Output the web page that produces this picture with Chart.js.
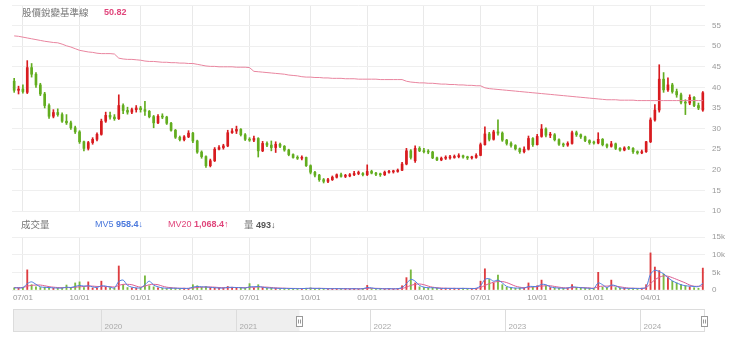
<!DOCTYPE html>
<html>
<head>
<meta charset="utf-8">
<script src="https://cdn.jsdelivr.net/npm/chart.js@4.4.1/dist/chart.umd.min.js"></script>
<style>
  html, body { margin: 0; padding: 0; background: #fff; }
  body { width: 740px; height: 342px; position: relative; overflow: hidden;
         font-family: "Liberation Sans", "Noto Sans CJK TC", sans-serif; }
  canvas { position: absolute; left: 0; }
  #priceCanvas { top: 0; }
  #volCanvas { top: 230px; }
  #navCanvas { top: 300px; }
  .lg { position: absolute; font-size: 9px; line-height: 12px; white-space: nowrap; }
  .cn { font-family: "Noto Sans CJK TC", sans-serif; color: #777; font-size: 9.5px; }
  .pink { color: #e0457b; }
  .blue { color: #4a78dc; }
  .dark { color: #555; }
  b { font-weight: bold; }
</style>
</head>
<body>
<canvas id="priceCanvas" width="740" height="216"></canvas>
<canvas id="volCanvas" width="740" height="80"></canvas>
<canvas id="navCanvas" width="740" height="42"></canvas>

<div class="lg cn" style="top:6px;left:22px;">股價銳變基準線</div>
<div class="lg pink" style="top:6px;left:104px;"><b>50.82</b></div>

<div class="lg cn" style="top:218px;left:21px;">成交量</div>
<div class="lg blue" style="top:218px;left:95px;">MV5 <b>958.4</b>↓</div>
<div class="lg pink" style="top:218px;left:168px;">MV20 <b>1,068.4</b>↑</div>
<div class="lg dark" style="top:218px;left:244px;"><span class="cn" style="color:#777">量</span> <b>493</b>↓</div>

<script>
// Weekly candles, first week starting Monday 2021-06-14
const firstWeek = [2021, 5, 14];
const weekCount = 159;

const opens = [
  41.5, 39.3, 39.6, 38.8, 44.8, 43.2, 40.6, 38.4, 35.6, 33.0,
  33.9, 33.4, 31.8, 31.4, 30.2, 29.2, 26.8, 25.2, 26.6, 27.4,
  28.6, 31.8, 33.2, 32.8, 32.4, 35.6, 34.4, 34.0, 34.6, 35.0,
  34.6, 34.2, 32.9, 31.4, 33.0, 32.8, 31.3, 29.6, 27.9, 27.3,
  28.0, 28.9, 27.0, 24.3, 23.2, 21.0, 22.2, 25.0, 25.4, 25.8,
  29.0, 29.4, 29.8, 28.5, 27.4, 27.2, 27.6, 24.6, 26.4, 26.0,
  25.4, 26.2, 25.7, 24.8, 23.7, 23.0, 22.8, 23.0, 21.0, 19.4,
  18.7, 17.6, 17.2, 17.6, 18.2, 18.8, 18.4, 18.5, 18.8, 19.1,
  19.1, 18.8, 19.6, 19.2, 18.9, 18.8, 19.4, 19.5, 19.6, 19.9,
  21.4, 24.6, 22.2, 25.2, 24.6, 24.4, 24.3, 22.9, 22.4, 22.8,
  22.9, 23.0, 23.2, 23.4, 23.1, 22.9, 23.0, 23.5, 26.1, 28.7,
  27.4, 29.2, 28.9, 27.2, 26.4, 25.9, 25.1, 24.4, 25.0, 27.6,
  26.1, 28.1, 29.9, 28.4, 28.5, 27.3, 26.2, 26.0, 26.4, 29.0,
  28.5, 28.0, 27.1, 26.6, 26.5, 27.4, 26.1, 25.7, 26.3, 25.2,
  24.8, 25.3, 25.2, 24.4, 24.1, 24.4, 26.8, 32.1, 34.5, 42.0,
  39.4, 40.6, 39.0, 38.2, 36.4, 36.2, 37.6, 35.6, 34.5
];
const highs = [
  42.2, 40.3, 40.6, 46.5, 45.8, 43.6, 41.0, 38.8, 36.0, 34.6,
  34.8, 33.8, 33.4, 31.8, 30.6, 29.5, 27.0, 26.9, 27.8, 29.0,
  32.3, 34.0, 34.0, 33.4, 38.2, 36.0, 35.2, 35.0, 35.6, 35.4,
  36.6, 34.4, 33.2, 33.4, 33.6, 33.0, 31.5, 29.8, 28.2, 28.3,
  29.5, 29.1, 27.2, 24.6, 23.4, 22.6, 25.4, 25.9, 26.2, 29.6,
  30.0, 30.6, 30.0, 28.8, 27.8, 28.2, 27.8, 26.9, 26.8, 27.0,
  26.8, 26.5, 25.9, 25.0, 23.9, 23.4, 23.4, 23.1, 21.2, 19.6,
  18.9, 17.9, 17.9, 18.5, 19.0, 19.2, 18.9, 19.1, 19.6, 19.7,
  19.3, 21.2, 19.9, 19.4, 19.2, 19.7, 19.9, 19.9, 20.2, 21.8,
  25.2, 24.9, 25.8, 25.6, 25.2, 24.9, 24.5, 23.1, 23.1, 23.4,
  23.5, 23.6, 23.9, 23.6, 23.3, 23.3, 23.9, 26.5, 30.4, 29.1,
  29.6, 32.1, 29.2, 27.4, 26.8, 26.1, 25.3, 25.6, 28.2, 27.8,
  28.6, 31.0, 30.2, 29.1, 28.8, 27.5, 26.5, 26.8, 29.4, 29.4,
  28.7, 28.2, 27.3, 27.0, 29.0, 27.6, 26.3, 26.9, 26.5, 25.4,
  25.6, 25.7, 25.4, 24.6, 24.8, 26.9, 32.6, 35.8, 45.5, 43.6,
  42.3, 41.0, 39.6, 38.6, 37.0, 38.2, 37.8, 36.2, 39.0
];
const lows = [
  38.8, 38.4, 38.6, 38.5, 42.5, 40.0, 38.0, 35.0, 32.5, 32.6,
  33.0, 31.5, 31.0, 29.8, 28.8, 26.4, 24.6, 24.8, 26.2, 27.0,
  28.4, 31.5, 32.3, 32.0, 32.2, 33.6, 33.5, 33.6, 34.0, 34.0,
  33.2, 32.6, 30.2, 31.2, 32.4, 31.0, 29.4, 27.6, 27.0, 27.0,
  27.8, 26.6, 24.0, 22.8, 20.6, 20.7, 22.0, 24.8, 25.0, 25.6,
  28.8, 28.8, 28.2, 27.1, 26.9, 26.8, 23.1, 24.4, 25.6, 24.6,
  24.2, 25.4, 24.5, 23.4, 22.8, 22.5, 22.4, 20.8, 19.0, 18.3,
  17.2, 16.8, 16.9, 17.4, 18.0, 18.2, 18.1, 18.3, 18.6, 18.8,
  18.5, 18.6, 19.0, 18.6, 18.4, 18.6, 19.2, 19.2, 19.4, 19.8,
  21.2, 22.6, 21.8, 24.4, 24.1, 23.9, 22.7, 22.2, 22.2, 22.5,
  22.6, 22.8, 22.9, 22.8, 22.5, 22.6, 22.8, 23.4, 26.0, 27.0,
  27.2, 28.4, 26.9, 26.0, 25.5, 24.8, 24.0, 24.1, 24.8, 25.7,
  26.0, 27.9, 28.0, 27.8, 27.0, 25.9, 25.6, 25.7, 26.2, 28.1,
  27.6, 26.8, 26.2, 26.2, 26.3, 25.8, 25.3, 25.5, 24.9, 24.5,
  24.6, 24.9, 24.0, 23.8, 23.9, 24.2, 26.6, 31.8, 34.0, 38.8,
  39.0, 38.6, 37.6, 36.0, 33.4, 35.8, 35.3, 34.6, 34.2
];
const closes = [
  39.3, 39.6, 39.0, 44.8, 43.2, 40.6, 38.4, 35.6, 33.0, 33.9,
  33.4, 31.8, 31.4, 30.2, 29.2, 26.8, 25.2, 26.6, 27.4, 28.6,
  31.8, 33.2, 32.8, 32.4, 35.6, 34.4, 34.0, 34.6, 35.0, 34.6,
  34.2, 32.9, 31.4, 33.0, 32.8, 31.3, 29.6, 27.9, 27.3, 28.0,
  28.9, 27.0, 24.3, 23.2, 21.0, 22.2, 25.0, 25.4, 25.8, 29.0,
  29.4, 29.8, 28.5, 27.4, 27.2, 27.6, 24.6, 26.4, 26.0, 25.4,
  26.2, 25.7, 24.8, 23.7, 23.0, 22.8, 23.0, 21.0, 19.4, 18.7,
  17.6, 17.2, 17.6, 18.2, 18.8, 18.4, 18.5, 18.8, 19.1, 19.1,
  18.8, 19.6, 19.2, 18.9, 18.8, 19.4, 19.5, 19.6, 19.9, 21.4,
  24.6, 23.0, 25.2, 24.6, 24.4, 24.3, 22.9, 22.4, 22.8, 22.9,
  23.0, 23.2, 23.4, 23.1, 22.9, 23.0, 23.5, 26.1, 28.7, 27.4,
  29.2, 28.9, 27.2, 26.4, 25.9, 25.1, 24.4, 25.0, 27.6, 26.1,
  28.1, 29.9, 28.4, 28.5, 27.3, 26.2, 26.0, 26.4, 29.0, 28.5,
  28.0, 27.1, 26.6, 26.5, 27.4, 26.1, 25.7, 26.3, 25.2, 24.8,
  25.3, 25.2, 24.4, 24.1, 24.4, 26.8, 32.1, 34.5, 42.0, 39.4,
  40.6, 39.0, 38.2, 36.4, 36.2, 37.6, 35.6, 35.0, 38.7
];
// 股價銳變基準線
const baseline = [
  52.5, 52.4, 52.2, 52.0, 51.8, 51.6, 51.4, 51.2, 51.05, 50.9,
  50.82, 50.5, 50.1, 49.8, 49.4, 49.0, 48.8, 48.6, 48.5, 48.3,
  48.2, 48.2, 48.2, 48.1, 47.1, 46.9, 46.8, 46.8, 46.7, 46.6,
  46.4, 46.3, 46.3, 46.2, 46.1, 46.1, 46.0, 46.0, 45.9, 45.9,
  45.8, 45.8, 45.6, 45.4, 45.2, 45.1, 45.1, 45.0, 45.0, 45.0,
  45.0, 44.9, 44.9, 44.9, 44.8, 43.9, 43.8, 43.7, 43.6, 43.5,
  43.4, 43.3, 43.2, 43.0, 42.9, 42.8, 42.6, 42.5, 42.5, 42.4,
  42.4, 42.3, 42.3, 42.2, 42.2, 42.2, 42.1, 42.1, 42.1, 42.0,
  42.0, 42.0, 42.0, 42.0, 41.9, 41.9, 41.9, 41.9, 41.9, 41.9,
  41.5, 41.3, 41.2, 41.1, 41.1, 41.0, 41.0, 40.9, 40.8, 40.8,
  40.7, 40.7, 40.6, 40.6, 40.5, 40.5, 40.4, 40.4, 39.9, 39.7,
  39.6, 39.5, 39.4, 39.3, 39.2, 39.1, 39.0, 38.9, 38.8, 38.7,
  38.6, 38.5, 38.4, 38.3, 38.2, 38.1, 38.0, 37.9, 37.8, 37.7,
  37.6, 37.5, 37.4, 37.3, 37.2, 37.1, 37.0, 37.0, 37.0, 36.9,
  36.9, 36.9, 36.9, 36.8, 36.8, 36.8, 36.8, 36.8, 36.8, 36.8,
  36.8, 36.8, 36.8, 36.8, 36.8, 36.8, 36.8, 36.8, 36.8
];
// 成交量 and its moving averages
const volumes = [
  600, 500, 700, 5700, 1500, 900, 700, 800, 600, 500,
  500, 600, 1400, 500, 2000, 2300, 700, 2300, 600, 500,
  2500, 800, 600, 500, 6800, 1500, 700, 600, 500, 600,
  4000, 1200, 900, 600, 500, 400, 600, 500, 400, 500,
  400, 1500, 1200, 800, 1000, 700, 600, 500, 600, 1000,
  800, 700, 600, 500, 1800, 600, 1500, 700, 500, 600,
  500, 400, 500, 400, 400, 400, 400, 500, 600, 400,
  500, 400, 300, 400, 400, 300, 400, 300, 400, 300,
  400, 1300, 400, 300, 400, 300, 400, 300, 400, 1200,
  3500, 5700, 2000, 900, 700, 600, 700, 500, 400, 500,
  400, 500, 400, 500, 400, 400, 500, 2500, 6000, 3000,
  2000, 4200, 1500, 800, 600, 500, 600, 500, 2000, 800,
  1200, 2800, 1200, 700, 600, 500, 500, 600, 1500, 700,
  600, 500, 500, 400, 5000, 800, 600, 2800, 700, 500,
  500, 400, 500, 400, 500, 1500, 10500, 6500, 5500, 4500,
  3500, 2500, 2000, 1500, 1200, 900, 650, 493, 6200
];
const mv5 = [
  600, 600, 650, 1800, 2300, 1600, 900, 750, 700, 600,
  550, 550, 800, 700, 1000, 1300, 1100, 1200, 900, 700,
  1200, 1100, 800, 600, 2400, 2800, 1300, 800, 600, 600,
  1500, 2500, 1400, 900, 600, 500, 500, 500, 450, 450,
  450, 800, 1000, 900, 850, 750, 650, 550, 550, 750,
  750, 700, 650, 550, 900, 900, 1000, 800, 600, 550,
  500, 450, 450, 430, 400, 400, 400, 450, 500, 450,
  450, 420, 350, 370, 400, 350, 370, 330, 370, 330,
  370, 700, 600, 380, 370, 330, 370, 330, 380, 700,
  1800, 3000, 2500, 1300, 800, 650, 650, 550, 450, 450,
  450, 450, 450, 450, 430, 400, 450, 1200, 3000, 3200,
  2500, 2800, 2000, 1000, 700, 550, 550, 550, 1000, 1000,
  1000, 1600, 1500, 900, 650, 550, 500, 550, 900, 800,
  650, 550, 500, 450, 2000, 1500, 700, 1400, 1200, 600,
  500, 450, 450, 430, 450, 800, 4500, 5600, 5200, 4600,
  3500, 2600, 2000, 1500, 1200, 1100, 1000, 958.4, 1900
];
const mv20 = [
  700, 700, 700, 1100, 1300, 1400, 1400, 1200, 950, 800,
  700, 650, 700, 700, 800, 900, 1000, 1100, 1100, 1000,
  1000, 1000, 950, 850, 1300, 1600, 1600, 1500, 1100, 800,
  1100, 1500, 1600, 1500, 1100, 800, 650, 550, 500, 480,
  470, 600, 700, 800, 850, 850, 800, 700, 650, 650,
  700, 700, 700, 650, 750, 800, 850, 850, 800, 700,
  600, 550, 500, 470, 450, 430, 420, 430, 450, 460,
  460, 450, 420, 400, 390, 380, 380, 370, 360, 360,
  360, 450, 480, 470, 440, 380, 360, 350, 360, 450,
  800, 1300, 1600, 1700, 1500, 1100, 800, 650, 550, 500,
  480, 460, 450, 450, 450, 440, 440, 700, 1300, 1800,
  2200, 2400, 2400, 2100, 1600, 1100, 800, 650, 750, 850,
  950, 1100, 1200, 1200, 1000, 800, 650, 580, 650, 700,
  700, 650, 580, 520, 900, 1100, 1100, 1200, 1100, 900,
  700, 550, 500, 470, 470, 600, 1800, 2900, 3600, 4000,
  3900, 3500, 3000, 2500, 2000, 1400, 1050, 1068.4, 1120
];
const priceRange = [10, 60];
const volumeRange = [0, 15000];
const quarterMonths = [0, 3, 6, 9];
const navYears = [2020, 2021, 2022, 2023, 2024];
const navRange = [2019.345, 2024.485];
const navSelectionStart = 2021.47;

// ---- categories: one Monday per week ----
const weeks = [];
for (let i = 0; i < weekCount; i++) {
  weeks.push(new Date(Date.UTC(firstWeek[0], firstWeek[1], firstWeek[2] + 7 * i)));
}
// a week gets a tick when it holds the first trading day of a quarter month
function quarterLabel(monday) {
  for (let k = 0; k < 5; k++) {
    const d = new Date(monday.getTime() + k * 86400000);
    const dd = d.getUTCDate(), m = d.getUTCMonth();
    const first = dd === 1 || ((dd === 2 || dd === 3) && d.getUTCDay() === 1);
    if (first && quarterMonths.includes(m)) {
      return String(m + 1).padStart(2, '0') + '/01';
    }
  }
  return '';
}
const labels = weeks.map(w => w.toISOString().slice(0, 10));
const tickText = weeks.map(quarterLabel);

const UP = '#d81b1f', DOWN = '#62ad1f';
const candleColors = closes.map((c, i) => c >= opens[i] ? UP : DOWN);
const volColors = closes.map((c, i) => c >= opens[i] ? 'rgba(216,27,31,0.85)' : 'rgba(98,173,31,0.85)');

Chart.defaults.font.family = '"Liberation Sans", Arial, sans-serif';
Chart.defaults.animation = false;

const GRID = '#efefef';
const quarterGrid = ctx => (tickText[ctx.index] ? '#e9e9e9' : 'rgba(0,0,0,0)');

// right-hand value axis with a fixed width and no extra label padding
function rightAxis(extra) {
  return Object.assign({
    position: 'right',
    grid: { color: GRID, drawTicks: false },
    border: { display: false },
    afterFit(scale) {
      scale.width = 35;
      scale.paddingTop = 0;
      scale.paddingBottom = 0;
    }
  }, extra);
}
function flatX(extra, h) {
  return Object.assign({
    grid: { color: quarterGrid, offset: false, drawTicks: false },
    border: { display: false },
    afterFit(scale) {
      scale.height = h;
      scale.paddingLeft = 0;
      scale.paddingRight = 0;
    }
  }, extra);
}

// ---- price panel ----
new Chart(document.getElementById('priceCanvas'), {
  type: 'bar',
  data: {
    labels,
    datasets: [
      { type: 'line', data: baseline, borderColor: '#e9859f', borderWidth: 1,
        pointRadius: 0, tension: 0, order: 0 },
      { data: lows.map((l, i) => [l, highs[i]]), backgroundColor: candleColors,
        barThickness: 1, grouped: false, order: 2 },
      { data: opens.map((o, i) => [o, closes[i]]), backgroundColor: candleColors,
        barThickness: 2, minBarLength: 1, grouped: false, order: 1 }
    ]
  },
  options: {
    responsive: false,
    events: [],
    layout: { padding: { left: 12, right: 0, top: 5, bottom: 5 } },
    plugins: { legend: { display: false }, tooltip: { enabled: false } },
    scales: {
      x: flatX({ ticks: { display: false, autoSkip: false } }, 0),
      y: rightAxis({
        min: priceRange[0], max: priceRange[1],
        ticks: { stepSize: 5, color: '#999', font: { size: 8 }, padding: 7,
                 callback: v => (v === priceRange[1] ? '' : v) }
      })
    }
  }
});

// ---- volume panel ----
new Chart(document.getElementById('volCanvas'), {
  type: 'bar',
  data: {
    labels,
    datasets: [
      { type: 'line', data: mv5, borderColor: '#4f7fe0', borderWidth: 1,
        pointRadius: 0, tension: 0.3, order: 0 },
      { type: 'line', data: mv20, borderColor: '#dd5f92', borderWidth: 1,
        pointRadius: 0, tension: 0.3, order: 1 },
      { data: volumes, backgroundColor: volColors, barThickness: 1.2, order: 2 }
    ]
  },
  options: {
    responsive: false,
    events: [],
    layout: { padding: { left: 12, right: 0, top: 7, bottom: 6 } },
    plugins: { legend: { display: false }, tooltip: { enabled: false } },
    scales: {
      x: flatX({
        ticks: { autoSkip: false, maxRotation: 0, minRotation: 0, padding: 3,
                 color: '#999', font: { size: 8 },
                 callback: (v, i) => tickText[i] }
      }, 14),
      y: rightAxis({
        min: volumeRange[0], max: volumeRange[1],
        ticks: { stepSize: 5000, color: '#999', font: { size: 8 }, padding: 7,
                 callback: v => (v === 0 ? '0' : v / 1000 + 'k') }
      })
    }
  }
});

// ---- range navigator ----
const navigatorFrame = {
  id: 'navigatorFrame',
  beforeDraw(chart) {
    const { ctx, chartArea: a } = chart;
    const xs = chart.scales.x;
    const selX = Math.round(xs.getPixelForValue(navSelectionStart)) + 0.5;
    ctx.save();
    ctx.fillStyle = '#efefef';
    ctx.fillRect(a.left, a.top, selX - a.left, a.bottom - a.top);
    ctx.strokeStyle = '#dcdcdc';
    ctx.lineWidth = 1;
    ctx.strokeRect(a.left + 0.5, a.top + 0.5, a.right - a.left - 1, a.bottom - a.top - 1);
    ctx.font = '8px "Liberation Sans", Arial, sans-serif';
    ctx.fillStyle = '#aaa';
    ctx.textBaseline = 'bottom';
    navYears.forEach(y => {
      const x = Math.round(xs.getPixelForValue(y)) + 0.5;
      ctx.beginPath();
      ctx.moveTo(x, a.top);
      ctx.lineTo(x, a.bottom);
      ctx.stroke();
      ctx.fillText(String(y), x + 3, a.bottom - 1);
    });
    ctx.restore();
  },
  afterDraw(chart) {
    const { ctx, chartArea: a } = chart;
    const xs = chart.scales.x;
    const handles = [xs.getPixelForValue(navSelectionStart), a.right - 1];
    ctx.save();
    handles.forEach(hx => {
      const x = Math.round(hx - 3) + 0.5, y = a.top + 7.5;
      ctx.fillStyle = '#fff';
      ctx.strokeStyle = '#999';
      ctx.lineWidth = 1;
      ctx.fillRect(x, y, 6, 10);
      ctx.strokeRect(x, y, 6, 10);
      ctx.beginPath();
      ctx.moveTo(x + 2, y + 3); ctx.lineTo(x + 2, y + 7);
      ctx.moveTo(x + 4, y + 3); ctx.lineTo(x + 4, y + 7);
      ctx.stroke();
    });
    ctx.restore();
  }
};

new Chart(document.getElementById('navCanvas'), {
  type: 'line',
  data: { datasets: [{ data: [] }] },
  options: {
    responsive: false,
    events: [],
    layout: { padding: { left: 13, right: 35, top: 9, bottom: 10 } },
    plugins: { legend: { display: false }, tooltip: { enabled: false } },
    scales: {
      x: { type: 'linear', min: navRange[0], max: navRange[1], display: false },
      y: { min: 0, max: 1, display: false }
    }
  },
  plugins: [navigatorFrame]
});
</script>
</body>
</html>
